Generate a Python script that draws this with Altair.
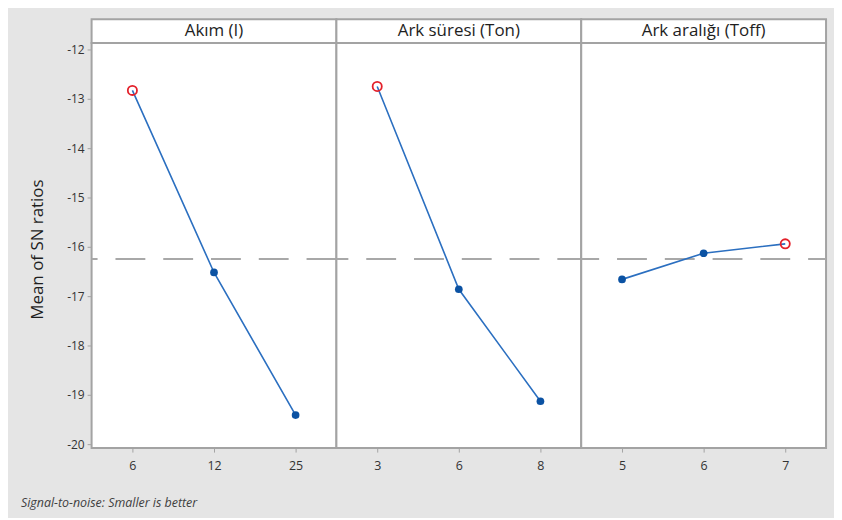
import altair as alt
import pandas as pd

factors = ["Akım (I)", "Ark süresi (Ton)", "Ark aralığı (Toff)"]
levels_akim = ["6", "12", "25"]
sn_akim = [-12.82, -16.51, -19.40]
levels_ton = ["3", "6", "8"]
sn_ton = [-12.74, -16.85, -19.12]
levels_toff = ["5", "6", "7"]
sn_toff = [-16.65, -16.12, -15.93]
y_ticks = [-20, -19, -18, -17, -16, -15, -14, -13, -12]
y_title = "Mean of SN ratios"
caption = "Signal-to-noise: Smaller is better"

all_sn = sn_akim + sn_ton + sn_toff
grand_mean = sum(all_sn) / len(all_sn)

W = 246
H = 407
Y_DOMAIN = [-20.07, -11.86]
FONT = "Open Sans"
BORDER = "#a3a3a3"
LINE = "#2b6fc0"
DOT = "#0b52a3"
RED = "#e3202a"
TXT = "#1e1e1e"


def panel(i, name, levels, sn, show_y):
    df = pd.DataFrame({"level": levels, "sn": sn})
    df["best"] = [1 if v == max(sn) else 0 for v in sn]
    yscale = alt.Scale(domain=Y_DOMAIN, nice=False, zero=False)
    xscale = alt.Scale(type="point", padding=0.5)
    x = alt.X(
        "level:N", sort=levels, scale=xscale,
        axis=alt.Axis(title=None, labelAngle=0, domain=False, tickSize=4,
                      tickColor=BORDER, labelFontSize=12.5, labelColor="#333333",
                      labelPadding=7),
    )
    y = alt.Y("sn:Q", scale=yscale, axis=None)

    base = alt.Chart(df).encode(x=x, y=y)
    line = base.mark_line(color=LINE, strokeWidth=1.6)

    mean_rule = alt.Chart(pd.DataFrame({"m": [grand_mean]})).mark_rule(
        color="#a8a8a8", strokeWidth=2, strokeDash=[30, 18],
        strokeDashOffset=i * W,
    ).encode(y=alt.Y("m:Q", scale=yscale, axis=None))

    dots = base.transform_filter("datum.best == 0").mark_circle(
        color=DOT, size=60, opacity=1)
    best_pt = base.transform_filter("datum.best == 1").mark_point(
        shape="circle", color=RED, filled=False, size=85, strokeWidth=1.8,
        opacity=1)

    hdf = pd.DataFrame({"t": [name]})
    header_box = alt.Chart(hdf).mark_rect(
        fill="white", stroke=BORDER, strokeWidth=2
    ).encode(x=alt.value(0), x2=alt.value(W), y=alt.value(-24), y2=alt.value(0))
    header_txt = alt.Chart(hdf).mark_text(
        fontSize=17, color=TXT, font=FONT, baseline="middle", align="center"
    ).encode(x=alt.value(W / 2), y=alt.value(-12), text="t:N")

    layers = [mean_rule, line, dots, best_pt, header_box, header_txt]
    if show_y:
        tdf = pd.DataFrame({"v": y_ticks, "lab": [str(v) for v in y_ticks]})
        yt = alt.Chart(tdf).mark_rule(color=BORDER, strokeWidth=1).encode(
            x=alt.value(-4), x2=alt.value(0),
            y=alt.Y("v:Q", scale=yscale, axis=None))
        yl = alt.Chart(tdf).mark_text(
            fontSize=12, color="#333333", font=FONT, align="right",
            baseline="middle").encode(
            x=alt.value(-7), y=alt.Y("v:Q", scale=yscale, axis=None),
            text="lab:N")
        ttl = alt.Chart(pd.DataFrame({"t": [y_title]})).mark_text(
            fontSize=17, color=TXT, font=FONT, angle=270, align="center",
            baseline="middle").encode(
            x=alt.value(-54), y=alt.value(H / 2 + 4), text="t:N")
        cap = alt.Chart(pd.DataFrame({"c": [caption]})).mark_text(
            fontSize=12.5, fontStyle="italic", color="#404040", font=FONT,
            align="left", baseline="middle",
        ).encode(x=alt.value(-71), y=alt.value(462), text="c:N")
        layers += [yt, yl, ttl, cap]
    return alt.layer(*layers).properties(width=W, height=H)


p1 = panel(0, factors[0], levels_akim, sn_akim, True)
p2 = panel(1, factors[1], levels_ton, sn_ton, False)
p3 = panel(2, factors[2], levels_toff, sn_toff, False)

chart = alt.hconcat(p1, p2, p3, spacing=0, bounds="flush").configure(
    background="#e5e5e5",
    padding={"left": 12, "top": 8, "right": 6, "bottom": 6},
    font=FONT,
).configure_view(stroke=BORDER, strokeWidth=2, fill="white")

chart.save("out.html", embed_options={"renderer": "svg", "actions": False})
